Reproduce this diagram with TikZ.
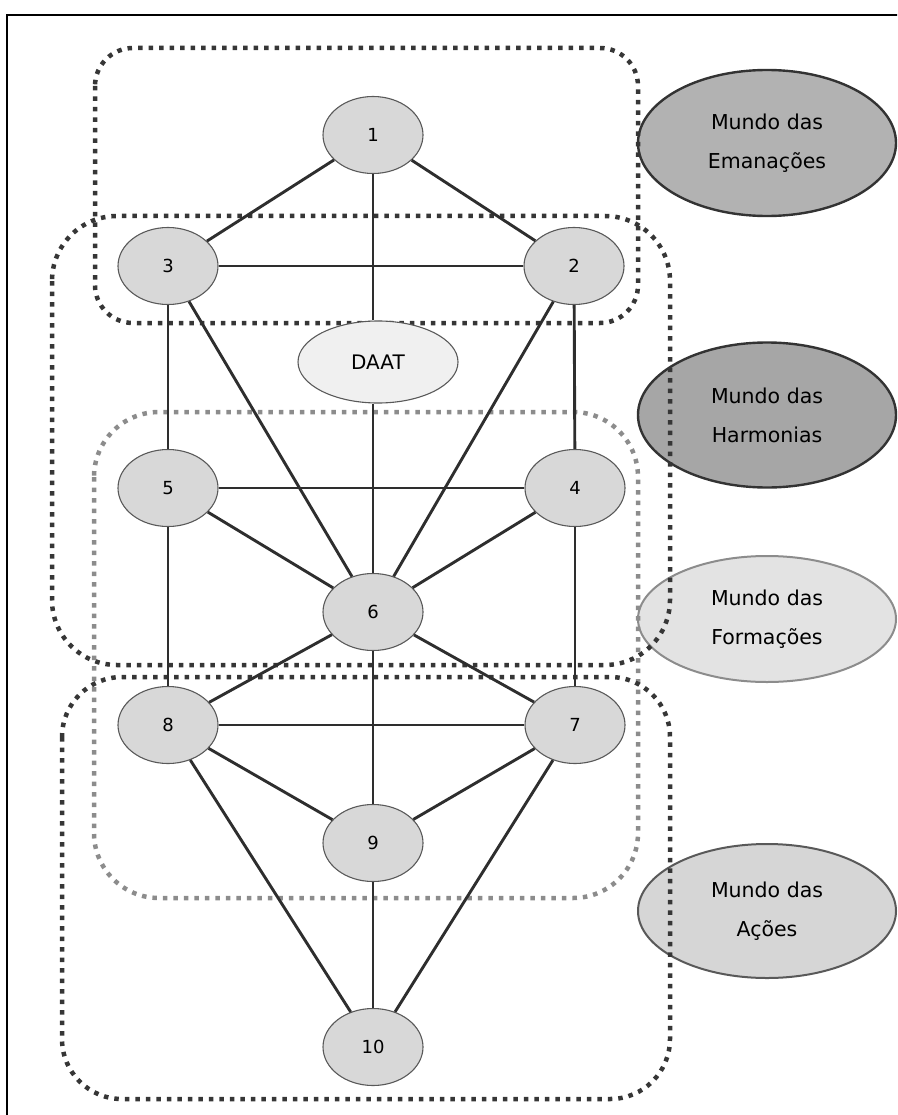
\documentclass[tikz,border=0pt]{standalone}
\usepackage{fontspec}
\setmainfont{DejaVu Sans}
\usetikzlibrary{shapes.geometric}

\definecolor{edgecol}{HTML}{2E2E2E}
\definecolor{dotdark}{HTML}{363636}
\definecolor{dotlight}{HTML}{8C8C8C}
\definecolor{nodefill}{HTML}{D8D8D8}
\definecolor{daatfill}{HTML}{F0F0F0}

\tikzset{
  sefira/.style={ellipse, draw=black!65, line width=1.1pt, fill=nodefill,
    minimum width=100pt, minimum height=77pt, inner sep=0pt,
    font=\fontsize{18}{20}\selectfont},
  world/.style={ellipse, inner sep=0pt, minimum width=258pt,
    align=center, font=\fontsize{20.5}{39}\selectfont},
  link/.style={draw=edgecol, line width=2.9pt},
  dotbox/.style={line width=4.5pt, dash pattern=on 4.5pt off 6pt, line cap=butt},
}

\begin{document}
\begin{tikzpicture}[x=1pt, y=-1pt]
\useasboundingbox (0,0) rectangle (897,1115);
\clip (0,0) rectangle (897,1115);

% outer frame
\draw[line width=2pt, black] (7,15) rectangle (920,1140);

% the four worlds
\node[world, draw=black!80, line width=2.4pt, fill=black!30, minimum height=146pt]
  (wE) at (767,143) {Mundo das\\Emanações};
\node[world, draw=black!80, line width=2.4pt, fill=black!35, minimum height=145pt]
  (wH) at (767,415) {Mundo das\\Harmonias};
\node[world, draw=black!45, line width=2pt, fill=black!11, minimum height=126pt]
  (wF) at (767,619) {Mundo das\\Formações};
\node[world, draw=black!65, line width=2pt, fill=black!16, minimum height=134pt]
  (wA) at (767,911) {Mundo das\\Ações};

% dotted groupings
\draw[dotbox, draw=dotdark, rounded corners=38pt] (95,48) rectangle (638,323);
\draw[dotbox, draw=dotdark, rounded corners=65pt] (52,216) rectangle (670,665);
\draw[dotbox, draw=dotlight, rounded corners=65pt] (94,412) rectangle (638,898);
\draw[dotbox, draw=dotdark, rounded corners=60pt] (62,677) rectangle (670,1099);

% sefirot
\node[sefira] (n1) at (373,135) {1};
\node[sefira] (n3) at (168,266) {3};
\node[sefira] (n2) at (574,266) {2};
\node[sefira, fill=daatfill, minimum width=160pt, minimum height=82pt,
  font=\fontsize{20}{22}\selectfont] (daat) at (378,362) {DAAT};
\node[sefira] (n5) at (168,488) {5};
\node[sefira] (n4) at (575,488) {4};
\node[sefira] (n6) at (373,612) {6};
\node[sefira] (n8) at (168,725) {8};
\node[sefira] (n7) at (575,725) {7};
\node[sefira] (n9) at (373,843) {9};
\node[sefira] (n10) at (373,1047) {10};

% paths
\draw[link] (n1) -- (n3);
\draw[link] (n1) -- (n2);
\draw[link] (n1) -- (n1 |- daat.north);
\draw[link] (n3) -- (n2);
\draw[link] (n3) -- (n5);
\draw[link] (n3) -- (n6);
\draw[link] (n2) -- (n4);
\draw[link] (n2) -- (n6);
\draw[link] (daat.south -| n6) -- (n6);
\draw[link] (n5) -- (n4);
\draw[link] (n5) -- (n6);
\draw[link] (n4) -- (n6);
\draw[link] (n5) -- (n8);
\draw[link] (n4) -- (n7);
\draw[link] (n6) -- (n8);
\draw[link] (n6) -- (n7);
\draw[link] (n6) -- (n9);
\draw[link] (n8) -- (n7);
\draw[link] (n8) -- (n9);
\draw[link] (n7) -- (n9);
\draw[link] (n8) -- (n10);
\draw[link] (n7) -- (n10);
\draw[link] (n9) -- (n10);
\end{tikzpicture}
\end{document}
